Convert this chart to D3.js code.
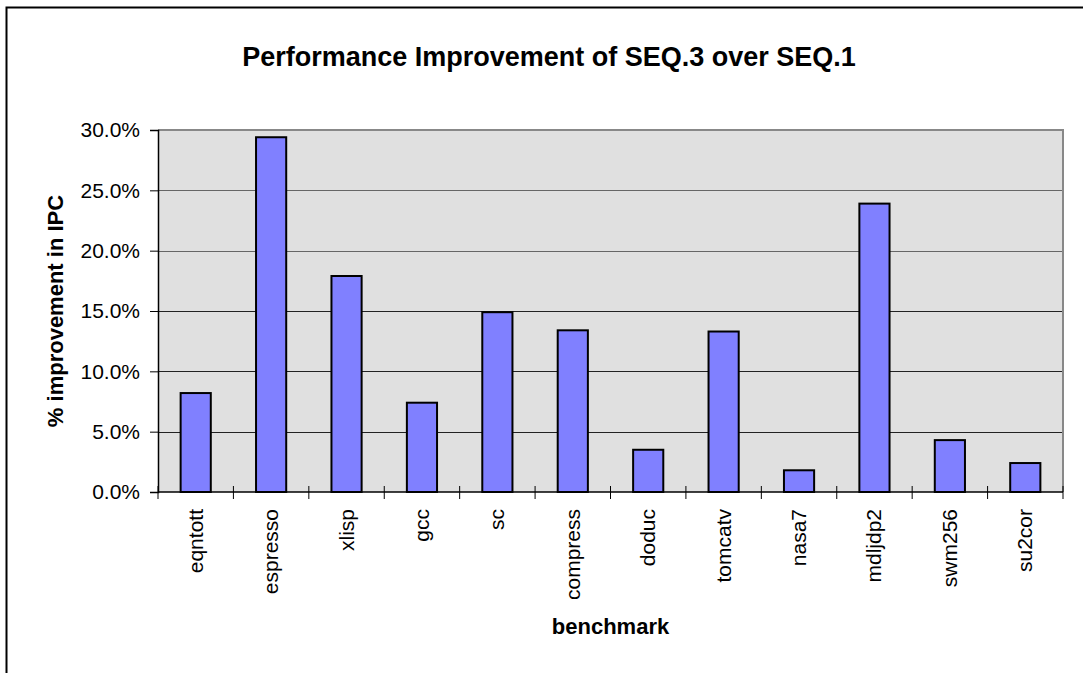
<!DOCTYPE html>
<html>
<head>
<meta charset="utf-8">
<script src="https://cdn.jsdelivr.net/npm/d3@7"></script>
<style>
  body { margin: 0; background: #fff; }
  text { font-family: Arial, "Liberation Sans", sans-serif; }
</style>
</head>
<body>
<div id="chart"></div>
<script>
// benchmark names and % improvement (SEQ.3 over SEQ.1)
var benchmarks = ["eqntott", "espresso", "xlisp", "gcc", "sc", "compress",
                  "doduc", "tomcatv", "nasa7", "mdljdp2", "swm256", "su2cor"];
var improvement = [0.082, 0.294, 0.179, 0.074, 0.149, 0.134,
                   0.035, 0.133, 0.018, 0.239, 0.043, 0.024];
var yTicks = [0, 0.05, 0.10, 0.15, 0.20, 0.25, 0.30];

var width = 1083, height = 673;
var margin = {left: 158, top: 130, right: 20, bottom: 181};
var plotW = width - margin.left - margin.right,
    plotH = height - margin.top - margin.bottom;

var svg = d3.select("#chart").append("svg")
    .attr("width", width)
    .attr("height", height);

// outer chart frame (runs off the right and bottom edges)
svg.append("rect")
    .attr("x", 6.5).attr("y", 7.5)
    .attr("width", width + 20).attr("height", height + 20)
    .attr("fill", "none")
    .attr("stroke", "#000")
    .attr("stroke-width", 2);

var g = svg.append("g")
    .attr("transform", "translate(" + margin.left + "," + margin.top + ")");

var x = d3.scaleBand()
    .domain(benchmarks)
    .range([0, plotW])
    .paddingInner(0.6)
    .paddingOuter(0.3);

var y = d3.scaleLinear()
    .domain([0, 0.30])
    .range([plotH, 0]);

// plot area background
g.append("rect")
    .attr("width", plotW).attr("height", plotH)
    .attr("fill", "#e0e0e0");

// gridlines
g.selectAll(".grid")
  .data(yTicks.slice(1))
  .enter().append("line")
    .attr("class", "grid")
    .attr("x1", 0).attr("x2", plotW)
    .attr("y1", function(d) { return Math.round(y(d)) + 0.5; })
    .attr("y2", function(d) { return Math.round(y(d)) + 0.5; })
    .attr("stroke", function(d) { return d >= 0.2 ? "#666" : "#222"; })
    .attr("stroke-width", 1.2);

// top + right frame of the plot area
g.append("path")
    .attr("d", "M0,0H" + plotW + "V" + plotH)
    .attr("fill", "none")
    .attr("stroke", "#888")
    .attr("stroke-width", 2);

// bars
g.selectAll(".bar")
  .data(improvement)
  .enter().append("rect")
    .attr("class", "bar")
    .attr("x", function(d, i) { return x(benchmarks[i]); })
    .attr("y", function(d) { return y(d); })
    .attr("width", x.bandwidth())
    .attr("height", function(d) { return plotH - y(d); })
    .attr("fill", "#8080ff")
    .attr("stroke", "#000")
    .attr("stroke-width", 2);

// y axis
var yAxis = g.append("g")
    .call(d3.axisLeft(y).tickValues(yTicks).tickFormat(d3.format(".1%")).tickSize(8).tickPadding(10));
yAxis.select(".domain").attr("stroke", "#000").attr("stroke-width", 1.5);
yAxis.selectAll("text").attr("font-size", 21).attr("fill", "#000")
    .attr("font-family", "Arial, 'Liberation Sans', sans-serif");

// x axis: ticks on category boundaries, crossing the axis line
var bounds = d3.range(benchmarks.length + 1).map(function(i) { return i * plotW / benchmarks.length; });
g.append("line")
    .attr("x1", 0).attr("x2", plotW)
    .attr("y1", plotH).attr("y2", plotH)
    .attr("stroke", "#000").attr("stroke-width", 1.5);
g.selectAll(".xtick")
  .data(bounds)
  .enter().append("line")
    .attr("class", "xtick")
    .attr("x1", function(d) { return d; }).attr("x2", function(d) { return d; })
    .attr("y1", plotH - 6).attr("y2", plotH + 7)
    .attr("stroke", "#000").attr("stroke-width", 1);

g.selectAll(".xlabel")
  .data(benchmarks)
  .enter().append("text")
    .attr("class", "xlabel")
    .attr("transform", function(d) {
      return "translate(" + (x(d) + x.bandwidth() / 2 + 7) + "," + (plotH + 17) + ")rotate(-90)";
    })
    .attr("text-anchor", "end")
    .attr("font-size", 21)
    .text(function(d) { return d; });

// titles
svg.append("text")
    .attr("x", 549).attr("y", 66)
    .attr("text-anchor", "middle")
    .attr("font-size", 27)
    .attr("font-weight", "bold")
    .text("Performance Improvement of SEQ.3 over SEQ.1");

svg.append("text")
    .attr("transform", "translate(63," + (margin.top + plotH / 2) + ")rotate(-90)")
    .attr("text-anchor", "middle")
    .attr("font-size", 22)
    .attr("font-weight", "bold")
    .text("% improvement in IPC");

svg.append("text")
    .attr("x", margin.left + plotW / 2).attr("y", 634)
    .attr("text-anchor", "middle")
    .attr("font-size", 22)
    .attr("font-weight", "bold")
    .text("benchmark");
</script>
</body>
</html>
